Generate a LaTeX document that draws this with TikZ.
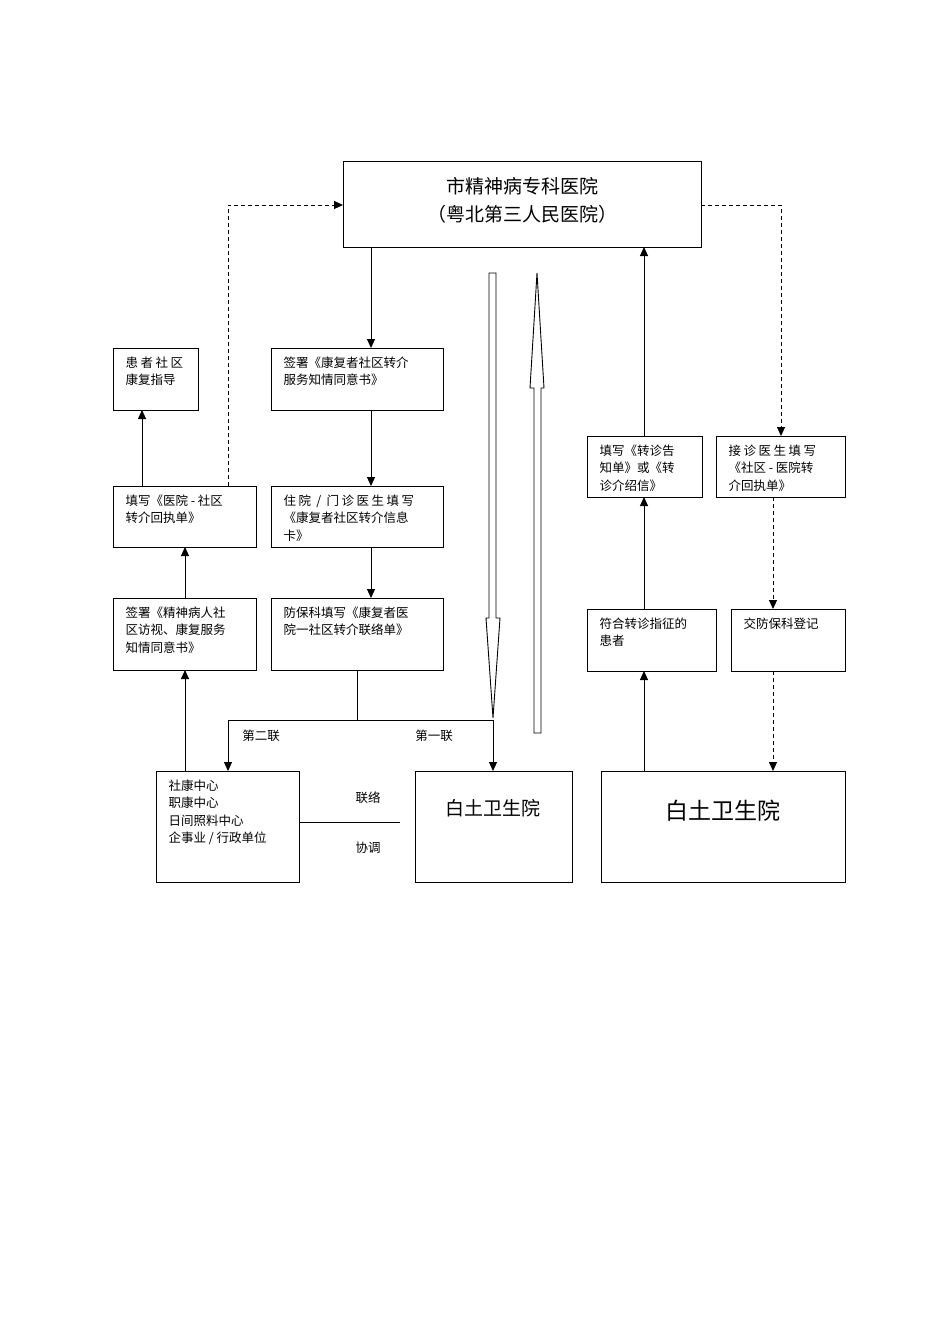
\documentclass[tikz,border=0pt]{standalone}
\usepackage{fontspec}
\setmainfont{Noto Sans CJK SC}
\newfontfamily\spaced[LetterSpace=20]{Noto Sans CJK SC}
\usetikzlibrary{arrows.meta}
\begin{document}
\begin{tikzpicture}[x=1pt,y=-1pt,line width=1pt,
  bx/.style={draw,line width=1pt},
  tx/.style={anchor=north west,inner sep=0pt,align=left,font=\fontsize{12.5}{17.5}\selectfont},
  ar/.style={-{Triangle[length=9pt,width=8pt]}},
  da/.style={ar,dashed,dash pattern=on 4pt off 3pt}]
\useasboundingbox (0,0) rectangle (950,1344);
% boxes
\draw[bx] (343,161) rectangle (701,247);
\node[align=center,font=\fontsize{19}{28}\selectfont] (topt) at (522,200) {市精神病专科医院\\（粤北第三人民医院）};
\draw[bx] (113,348) rectangle (198,410); \node[tx] (a1) at (125,356) {{\spaced 患者社区}\\康复指导};
\draw[bx] (271,348) rectangle (443,410); \node[tx] (b1) at (283,356) {签署《康复者社区转介\\服务知情同意书》};
\draw[bx] (113,486) rectangle (256,547); \node[tx] (a2) at (125,494) {填写《医院 - 社区\\转介回执单》};
\draw[bx] (271,486) rectangle (443,547); \node[tx] (b2) at (283,494) {{\spaced 住院 / 门诊医生填写}\\《康复者社区转介信息\\卡》};
\draw[bx] (113,598) rectangle (256,670); \node[tx] (a3) at (125,606) {签署《精神病人社\\区访视、康复服务\\知情同意书》};
\draw[bx] (271,598) rectangle (443,670); \node[tx] (b3) at (283,606) {防保科填写《康复者医\\院一社区转介联络单》};
\draw[bx] (587,436) rectangle (702,497); \node[tx] (c1) at (599,444) {填写《转诊告\\知单》或《转\\诊介绍信》};
\draw[bx] (716,436) rectangle (845,497); \node[tx] (d1) at (728,444) {{\spaced 接诊医生填写}\\《社区 - 医院转\\介回执单》};
\draw[bx] (587,609) rectangle (716,671); \node[tx] (c2) at (599,617) {符合转诊指征的\\患者};
\draw[bx] (731,609) rectangle (845,671); \node[tx] (d2) at (743,617) {交防保科登记};
\draw[bx] (156,771) rectangle (299,882); \node[tx] (e1) at (168,779) {社康中心\\职康中心\\日间照料中心\\企事业 / 行政单位};
\draw[bx] (415,771) rectangle (572,882); \node[font=\fontsize{19}{24}\selectfont] (f1) at (493,808) {白土卫生院};
\draw[bx] (601,771) rectangle (845,882); \node[font=\fontsize{23}{28}\selectfont] (g1) at (723,811) {白土卫生院};
% coordinates
\coordinate (p1) at (371,247); \coordinate (p2) at (371,348);
\coordinate (p3) at (371,410); \coordinate (p4) at (371,486);
\coordinate (p5) at (371,547); \coordinate (p6) at (371,598);
\coordinate (q1) at (357,670); \coordinate (q2) at (357,720);
\coordinate (q3) at (228,720); \coordinate (q4) at (228,771);
\coordinate (q5) at (493,720); \coordinate (q6) at (493,771);
\coordinate (r1) at (185,771); \coordinate (r2) at (185,670);
\coordinate (r3) at (185,598); \coordinate (r4) at (185,547);
\coordinate (r5) at (142,486); \coordinate (r6) at (142,410);
\coordinate (s1) at (228,486); \coordinate (s2) at (228,205); \coordinate (s3) at (343,205);
\coordinate (t1) at (701,205); \coordinate (t2) at (781,205); \coordinate (t3) at (781,436);
\coordinate (u1) at (773,497); \coordinate (u2) at (773,609);
\coordinate (u3) at (773,671); \coordinate (u4) at (773,771);
\coordinate (v1) at (644,771); \coordinate (v2) at (644,671);
\coordinate (v3) at (644,609); \coordinate (v4) at (644,497);
\coordinate (v5) at (644,436); \coordinate (v6) at (644,247);
\coordinate (w1) at (299,822); \coordinate (w2) at (400,822);
% connectors
\draw[ar] (p1)--(p2); \draw[ar] (p3)--(p4); \draw[ar] (p5)--(p6);
\draw (q1)--(q2); \draw (q3)--(q5);
\draw[ar] (q3)--(q4); \draw[ar] (q5)--(q6);
\draw[ar] (r1)--(r2); \draw[ar] (r3)--(r4); \draw[ar] (r5)--(r6);
\draw[da] (s1)--(s2)--(s3);
\draw[da] (t1)--(t2)--(t3);
\draw[da] (u1)--(u2); \draw[da] (u3)--(u4);
\draw[ar] (v1)--(v2); \draw[ar] (v3)--(v4); \draw[ar] (v5)--(v6);
\draw (w1)--(w2);
\node[font=\fontsize{12.5}{15}\selectfont] (l1) at (261,736) {第二联};
\node[font=\fontsize{12.5}{15}\selectfont] (l2) at (434,736) {第一联};
\node[font=\fontsize{12.5}{15}\selectfont] (l3) at (368,798) {联络};
\node[font=\fontsize{12.5}{15}\selectfont] (l4) at (368,848) {协调};
% hollow arrows
\draw[line width=0.9pt,line join=miter] (489,273)--(496,273)--(496,618)--(500,618)--(493,718)--(486,618)--(489,618)--cycle;
\draw[line width=0.9pt,line join=miter] (534,733)--(541,733)--(541,388)--(544,388)--(537,273)--(530,388)--(534,388)--cycle;
\end{tikzpicture}
\end{document}
